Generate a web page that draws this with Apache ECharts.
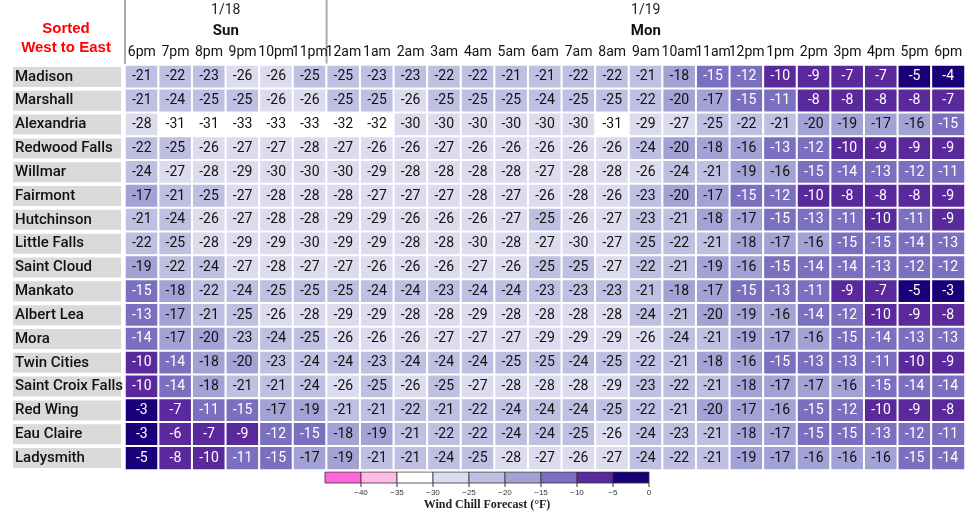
<!DOCTYPE html>
<html><head><meta charset="utf-8">
<script src="https://cdn.jsdelivr.net/npm/echarts@6/dist/echarts.min.js"></script>
<style>html,body{margin:0;background:#fff}#c{width:970px;height:517px}</style>
</head><body><div id="c"></div>
<script>
const hours = ['6pm','7pm','8pm','9pm','10pm','11pm','12am','1am','2am','3am','4am','5am','6am','7am','8am','9am','10am','11am','12pm','1pm','2pm','3pm','4pm','5pm','6pm'];
const cities = ['Madison','Marshall','Alexandria','Redwood Falls','Willmar','Fairmont','Hutchinson','Little Falls','Saint Cloud','Mankato','Albert Lea','Mora','Twin Cities','Saint Croix Falls','Red Wing','Eau Claire','Ladysmith'];
const values = [
  [-21,-22,-23,-26,-26,-25,-25,-23,-23,-22,-22,-21,-21,-22,-22,-21,-18,-15,-12,-10,-9,-7,-7,-5,-4],
  [-21,-24,-25,-25,-26,-26,-25,-25,-26,-25,-25,-25,-24,-25,-25,-22,-20,-17,-15,-11,-8,-8,-8,-8,-7],
  [-28,-31,-31,-33,-33,-33,-32,-32,-30,-30,-30,-30,-30,-30,-31,-29,-27,-25,-22,-21,-20,-19,-17,-16,-15],
  [-22,-25,-26,-27,-27,-28,-27,-26,-26,-27,-26,-26,-26,-26,-26,-24,-20,-18,-16,-13,-12,-10,-9,-9,-9],
  [-24,-27,-28,-29,-30,-30,-30,-29,-28,-28,-28,-28,-27,-28,-28,-26,-24,-21,-19,-16,-15,-14,-13,-12,-11],
  [-17,-21,-25,-27,-28,-28,-28,-27,-27,-27,-28,-27,-26,-28,-26,-23,-20,-17,-15,-12,-10,-8,-8,-8,-9],
  [-21,-24,-26,-27,-28,-28,-29,-29,-26,-26,-26,-27,-25,-26,-27,-23,-21,-18,-17,-15,-13,-11,-10,-11,-9],
  [-22,-25,-28,-29,-29,-30,-29,-29,-28,-28,-30,-28,-27,-30,-27,-25,-22,-21,-18,-17,-16,-15,-15,-14,-13],
  [-19,-22,-24,-27,-28,-27,-27,-26,-26,-26,-27,-26,-25,-25,-27,-22,-21,-19,-16,-15,-14,-14,-13,-12,-12],
  [-15,-18,-22,-24,-25,-25,-25,-24,-24,-23,-24,-24,-23,-23,-23,-21,-18,-17,-15,-13,-11,-9,-7,-5,-3],
  [-13,-17,-21,-25,-26,-28,-29,-29,-28,-28,-29,-28,-28,-28,-28,-24,-21,-20,-19,-16,-14,-12,-10,-9,-8],
  [-14,-17,-20,-23,-24,-25,-26,-26,-26,-27,-27,-27,-29,-29,-29,-26,-24,-21,-19,-17,-16,-15,-14,-13,-13],
  [-10,-14,-18,-20,-23,-24,-24,-23,-24,-24,-24,-25,-25,-24,-25,-22,-21,-18,-16,-15,-13,-13,-11,-10,-9],
  [-10,-14,-18,-21,-21,-24,-26,-25,-26,-25,-27,-28,-28,-28,-29,-23,-22,-21,-18,-17,-17,-16,-15,-14,-14],
  [-3,-7,-11,-15,-17,-19,-21,-21,-22,-21,-22,-24,-24,-24,-25,-22,-21,-20,-17,-16,-15,-12,-10,-9,-8],
  [-3,-6,-7,-9,-12,-15,-18,-19,-21,-22,-22,-24,-24,-25,-26,-24,-23,-21,-18,-17,-15,-15,-13,-12,-11],
  [-5,-8,-10,-11,-15,-17,-19,-21,-21,-24,-25,-28,-27,-26,-27,-24,-22,-21,-19,-17,-16,-16,-16,-15,-14]
];
const bins = [-45,-40,-35,-30,-25,-20,-15,-10,-5,0];
const binColors = ['#ff66d9','#ffbbe6','#ffffff','#dcdcee','#bfbfe2','#a2a2d4','#7b70bf','#5a2a9c','#1a0078'];

const data = [];
values.forEach((row, r) => row.forEach((v, c) => data.push([c, r, v])));
function colorOf(v) {
  for (let i = 0; i < binColors.length; i++) if (v < bins[i + 1]) return binColors[i];
  return binColors[binColors.length - 1];
}

const chart = echarts.init(document.getElementById('c'));
const L = 125, R = 5, T = 65, B = 47;
chart.setOption({
  animation: false,
  grid: { left: L, right: R, top: T, bottom: B },
  xAxis: {
    type: 'category', data: hours, position: 'top',
    axisLine: { show: false }, axisTick: { show: false },
    axisLabel: { interval: 0, margin: 6, fontFamily: 'Roboto', fontSize: 14, color: '#111' }
  },
  yAxis: {
    type: 'category', data: cities, inverse: true,
    axisLine: { show: false }, axisTick: { show: false },
    axisLabel: {
      align: 'left', margin: 112, fontFamily: 'Roboto', fontSize: 15, fontWeight: 500, color: '#111',
      backgroundColor: '#d9d9d9', width: 106, height: 20, lineHeight: 20, padding: [0, 0, 0, 2]
    }
  },
  series: [{
    type: 'heatmap', data: data,
    itemStyle: { borderColor: '#fff', borderWidth: 2, color: p => colorOf(p.value[2]) },
    label: {
      show: true, fontFamily: 'Roboto', fontSize: 14,
      formatter: p => String(p.value[2]),
      color: '#111',
      rich: {}
    },
    labelLayout: null
  }]
});
// white label on dark cells
chart.setOption({
  series: [{
    data: data.map(d => ({ value: d, label: { color: d[2] >= -15 ? '#fff' : '#111' } }))
  }]
});

const p0 = chart.convertToPixel({ gridIndex: 0 }, [0, 0]);
const p1 = chart.convertToPixel({ gridIndex: 0 }, [1, 0]);
const cw = p1[0] - p0[0];
const xSep = chart.convertToPixel({ gridIndex: 0 }, [6, 0])[0] - cw / 2;
const xStart = L;
const xEnd = 970 - R;
const gBottom = 517 - B;
const g = [
  { type: 'line', shape: { x1: xStart, y1: 0, x2: xStart, y2: gBottom }, style: { stroke: '#aaa', lineWidth: 2 } },
  { type: 'line', shape: { x1: xSep, y1: 0, x2: xSep, y2: gBottom }, style: { stroke: '#aaa', lineWidth: 2 } },
  { type: 'text', x: (xStart + xSep) / 2, y: 10, style: { text: '1/18', fontFamily: 'Roboto', fontSize: 14, fill: '#222', align: 'center', verticalAlign: 'middle' } },
  { type: 'text', x: (xStart + xSep) / 2, y: 31, style: { text: 'Sun', fontFamily: 'Roboto', fontSize: 15, fontWeight: 'bold', fill: '#111', align: 'center', verticalAlign: 'middle' } },
  { type: 'text', x: (xSep + xEnd) / 2, y: 10, style: { text: '1/19', fontFamily: 'Roboto', fontSize: 14, fill: '#222', align: 'center', verticalAlign: 'middle' } },
  { type: 'text', x: (xSep + xEnd) / 2, y: 31, style: { text: 'Mon', fontFamily: 'Roboto', fontSize: 15, fontWeight: 'bold', fill: '#111', align: 'center', verticalAlign: 'middle' } },
  { type: 'text', x: 66, y: 38, style: { text: 'Sorted\nWest to East', fontFamily: 'Arial', fontSize: 15, fontWeight: 'bold', fill: '#f00', align: 'center', verticalAlign: 'middle', lineHeight: 19 } }
];
// legend
const lx = 325, ly = 472, lw = 36, lh = 11;
binColors.forEach((c, i) => {
  g.push({ type: 'rect', shape: { x: lx + i * lw, y: ly, width: lw, height: lh }, style: { fill: c, stroke: '#333', lineWidth: 0.8 } });
});
bins.slice(1).forEach((b, i) => {
  const x = lx + (i + 1) * lw;
  g.push({ type: 'line', shape: { x1: x, y1: ly + lh, x2: x, y2: ly + lh + 4 }, style: { stroke: '#333', lineWidth: 1 } });
  g.push({ type: 'text', x: x, y: ly + lh + 10, style: { text: b === 0 ? '0' : '\u2212' + Math.abs(b), fontFamily: 'Arial', fontSize: 8, fill: '#333', align: 'center', verticalAlign: 'middle' } });
});
g.push({ type: 'text', x: lx + 4.5 * lw, y: ly + lh + 22, style: { text: 'Wind Chill Forecast (°F)', fontFamily: 'Liberation Serif', fontSize: 12, fontWeight: 'bold', fill: '#222', align: 'center', verticalAlign: 'middle' } });
chart.setOption({ graphic: g });
</script></body></html>
